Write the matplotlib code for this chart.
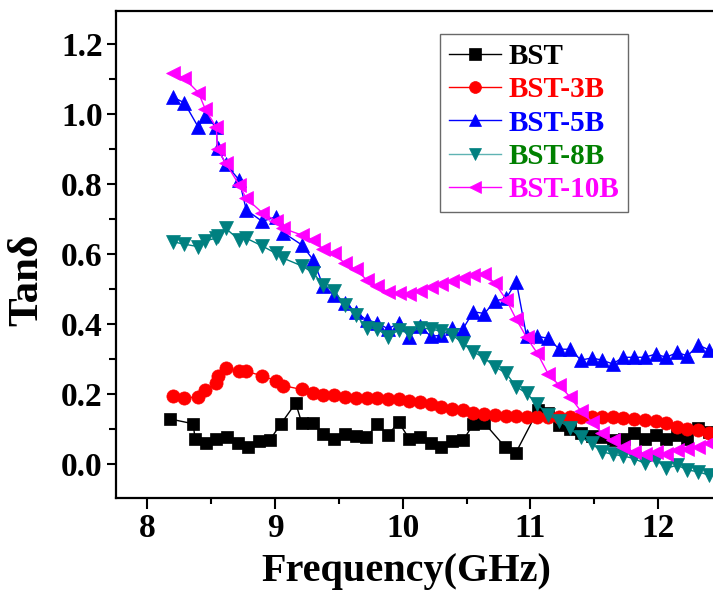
import numpy as np
import matplotlib
matplotlib.use("Agg")
from matplotlib import pyplot as plt

plt.rcParams['font.family'] = ['Liberation Serif', 'DejaVu Serif']
plt.rcParams['font.weight'] = 'bold'

# frequency grid (GHz) shared by the doped samples
freq = [8.20, 8.29, 8.40, 8.455, 8.54, 8.55, 8.615, 8.72, 8.775, 8.90,
        9.005, 9.065, 9.21, 9.30, 9.378, 9.462, 9.548, 9.632, 9.718, 9.80,
        9.885, 9.97, 10.05, 10.136, 10.22, 10.303, 10.389, 10.47, 10.553, 10.64,
        10.724, 10.81, 10.89, 10.97, 11.055, 11.14, 11.226, 11.31, 11.396, 11.48,
        11.56, 11.644, 11.727, 11.81, 11.895, 11.98, 12.065, 12.15, 12.23, 12.315,
        12.40]

# undoped BST was measured on its own grid
freq_bst = [8.175, 8.36, 8.374, 8.457, 8.54, 8.624, 8.708, 8.79, 8.875, 8.958,
            9.045, 9.162, 9.211, 9.295, 9.378, 9.462, 9.548, 9.632, 9.715, 9.799,
            9.885, 9.969, 10.052, 10.136, 10.219, 10.303, 10.389, 10.472, 10.553, 10.637,
            10.804, 10.887, 11.06, 11.14, 11.226, 11.31, 11.396, 11.48, 11.56, 11.645,
            11.73, 11.81, 11.895, 11.98, 12.06, 12.15, 12.23, 12.315, 12.40]

tan_bst = [0.130, 0.116, 0.072, 0.061, 0.072, 0.077, 0.062, 0.049, 0.067, 0.069,
           0.115, 0.175, 0.117, 0.117, 0.087, 0.073, 0.087, 0.082, 0.077, 0.114,
           0.085, 0.120, 0.073, 0.077, 0.062, 0.049, 0.067, 0.069, 0.114, 0.119,
           0.049, 0.034, 0.155, 0.147, 0.112, 0.100, 0.089, 0.081, 0.077, 0.071,
           0.074, 0.089, 0.074, 0.085, 0.074, 0.085, 0.073, 0.103, 0.093]

tan_3b = [0.196, 0.190, 0.193, 0.212, 0.233, 0.252, 0.274, 0.267, 0.266, 0.253,
          0.239, 0.225, 0.214, 0.205, 0.197, 0.197, 0.193, 0.191, 0.190, 0.190,
          0.187, 0.187, 0.182, 0.178, 0.172, 0.165, 0.159, 0.154, 0.148, 0.144,
          0.140, 0.138, 0.138, 0.136, 0.136, 0.136, 0.136, 0.136, 0.134, 0.134,
          0.134, 0.134, 0.133, 0.131, 0.127, 0.125, 0.117, 0.107, 0.102, 0.098,
          0.091]

tan_5b = [1.049, 1.033, 0.963, 0.996, 0.963, 0.903, 0.858, 0.812, 0.727, 0.694,
          0.707, 0.662, 0.627, 0.584, 0.509, 0.484, 0.462, 0.436, 0.412, 0.405,
          0.387, 0.404, 0.363, 0.395, 0.366, 0.369, 0.389, 0.386, 0.436, 0.431,
          0.467, 0.474, 0.522, 0.366, 0.366, 0.360, 0.329, 0.329, 0.298, 0.304,
          0.298, 0.287, 0.306, 0.306, 0.306, 0.315, 0.306, 0.320, 0.310, 0.341,
          0.327]

tan_8b = [0.636, 0.629, 0.622, 0.639, 0.646, 0.652, 0.674, 0.641, 0.646, 0.624,
          0.603, 0.589, 0.567, 0.547, 0.512, 0.496, 0.455, 0.427, 0.391, 0.387,
          0.365, 0.384, 0.374, 0.391, 0.386, 0.381, 0.370, 0.346, 0.322, 0.303,
          0.279, 0.260, 0.222, 0.203, 0.172, 0.141, 0.125, 0.103, 0.077, 0.060,
          0.036, 0.029, 0.024, 0.017, 0.003, 0.014, -0.011, -0.002, -0.016, -0.021,
          -0.031]

tan_10b = [1.119, 1.103, 1.062, 1.014, 0.963, 0.900, 0.860, 0.798, 0.760, 0.719,
           0.696, 0.674, 0.655, 0.641, 0.615, 0.603, 0.574, 0.557, 0.527, 0.509,
           0.493, 0.490, 0.487, 0.496, 0.506, 0.515, 0.525, 0.533, 0.541, 0.544,
           0.517, 0.471, 0.414, 0.363, 0.317, 0.258, 0.226, 0.193, 0.152, 0.122,
           0.090, 0.069, 0.050, 0.036, 0.031, 0.036, 0.030, 0.041, 0.043, 0.050,
           0.062]

fig = plt.figure(figsize=(7.13, 5.96), dpi=100)
ax = fig.add_axes([0.1627, 0.1644, 0.8373, 0.8171])

ax.plot(freq_bst, tan_bst, color='black', lw=1, marker='s', ms=9, mec='black', mew=0.5, label='BST')
ax.plot(freq, tan_3b, color='red', lw=1, marker='o', ms=9.5, mec='red', mew=0.5, label='BST-3B')
ax.plot(freq, tan_5b, color='blue', lw=1, marker='^', ms=10, mec='blue', mew=0.5, label='BST-5B')
ax.plot(freq, tan_8b, color='#008080', lw=1, marker='v', ms=10, mec='#008080', mew=0.5, label='BST-8B')
ax.plot(freq, tan_10b, color='magenta', lw=1, marker='<', ms=10, mec='magenta', mew=0.5, label='BST-10B')

ax.set_xlim(7.755, 12.43)
ax.set_ylim(-0.096, 1.295)
ax.set_xticks([8, 9, 10, 11, 12])
ax.set_xticks(np.arange(8.5, 12.5, 1.0), minor=True)
ax.set_yticks(np.arange(0, 1.21, 0.2))
ax.set_yticks(np.arange(0.1, 1.3, 0.2), minor=True)
ax.set_yticklabels(['0.0', '0.2', '0.4', '0.6', '0.8', '1.0', '1.2'])

for s in ['left', 'bottom', 'top']:
    ax.spines[s].set_linewidth(1.6)
ax.spines['right'].set_visible(False)
ax.tick_params(axis='x', which='major', direction='out', length=8, width=1.5, labelsize=24, pad=3)
ax.tick_params(axis='x', which='minor', direction='out', length=4.5, width=1.5)
ax.tick_params(axis='y', which='major', direction='out', length=6.5, width=1.5, labelsize=24, pad=3)
ax.tick_params(axis='y', which='minor', direction='out', length=5, width=1.5)
for t in ax.get_xticklabels() + ax.get_yticklabels():
    t.set_fontweight('bold')

ax.set_xlabel('Frequency(GHz)', fontsize=29, fontweight='bold')
ax.set_ylabel('Tanδ', fontsize=31, fontweight='bold')
ax.xaxis.set_label_coords(0.486, -0.112)
ax.yaxis.set_label_coords(-0.117, 0.448)

leg = ax.legend(loc='upper left', bbox_to_anchor=(440 / 713, 1 - 34 / 596),
                bbox_transform=fig.transFigure, fontsize=21, frameon=True,
                fancybox=False, edgecolor='#444444', handlelength=1.8,
                handletextpad=0.25, labelspacing=0.22, borderpad=0.3,
                borderaxespad=0, markerscale=0.9)
leg.get_frame().set_linewidth(1.0)
leg_colors = ['black', 'red', 'blue', 'green', 'magenta']
for txt, c in zip(leg.get_texts(), leg_colors):
    txt.set_color(c)
    txt.set_fontweight('bold')
leg.get_lines()[3].set_color('#5fb3b3')
leg.get_lines()[3].set_markerfacecolor('#008080')
leg.get_lines()[3].set_markeredgecolor('#008080')

fig.savefig('out.png', dpi=100)
